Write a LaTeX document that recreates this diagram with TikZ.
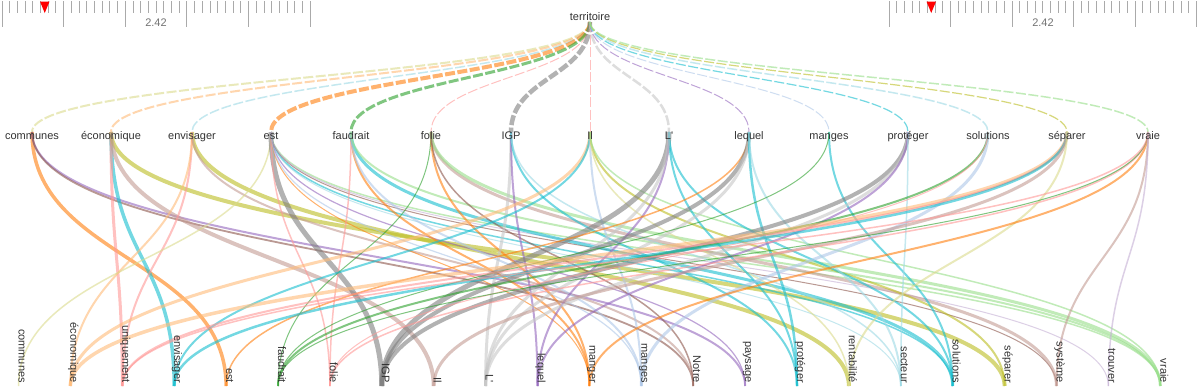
\documentclass[tikz,border=0pt]{standalone}
\usepackage{fontspec}
\setmainfont{Liberation Sans}
\usetikzlibrary{calc}
\definecolor{cOrange}{HTML}{FF7F0E}
\definecolor{cLOrange}{HTML}{FFBB78}
\definecolor{cGreen}{HTML}{2CA02C}
\definecolor{cLGreen}{HTML}{98DF8A}
\definecolor{cPink}{HTML}{FF9896}
\definecolor{cPurple}{HTML}{9467BD}
\definecolor{cLPurple}{HTML}{C5B0D5}
\definecolor{cBrown}{HTML}{8C564B}
\definecolor{cLBrown}{HTML}{C49C94}
\definecolor{cGray}{HTML}{7F7F7F}
\definecolor{cLGray}{HTML}{C7C7C7}
\definecolor{cOlive}{HTML}{BCBD22}
\definecolor{cLOlive}{HTML}{DBDB8D}
\definecolor{cCyan}{HTML}{17BECF}
\definecolor{cLCyan}{HTML}{9EDAE5}
\definecolor{cLBlue}{HTML}{AEC7E8}
\definecolor{cTick}{HTML}{AAAAAA}
\definecolor{cTxt}{HTML}{333333}
\newcommand\mylinkv[3]{%
  \path ($(#1)!0.5!(#2)$) coordinate (lkmid);
  \draw[#3] (#1) .. controls (#1 |- lkmid) and (#2 |- lkmid) .. (#2);
}
\newcommand\mylink[4]{\mylinkv{#1}{#2}{draw=#3, line width=#4, lowlink}}
\newcommand\mytop[3]{\mylinkv{T}{#1}{draw=#2, line width=#3, toplink}}
\tikzset{
  lowlink/.style={draw opacity=0.6},
  toplink/.style={draw opacity=0.6, dash pattern=on 10pt off 2.5pt},
  lbl/.style={font=\fontsize{11}{13}\selectfont, text=cTxt, inner sep=0pt},
  toplbl/.style={lbl, anchor=base},
  botlbl/.style={lbl, rotate=-90, anchor=base east},
  tickmin/.style={draw=cTick, line width=0.9pt},
  rulerlbl/.style={font=\fontsize{11}{13}\selectfont, text=black!55, inner sep=0pt, anchor=base},
}
\begin{document}
\begin{tikzpicture}[x=1pt,y=-1pt]
\useasboundingbox (0,0) rectangle (1200,386);
\fill[white] (0,0) rectangle (1200,386);
% rulers
\foreach \k in {0,...,40}{
  \pgfmathsetmacro\len{ifthenelse(mod(\k,8)==0,26,12)}
  \draw[tickmin] ({2+\k*7.706},1) -- ++(0,\len);
  \draw[tickmin] ({889+\k*7.6875},1) -- ++(0,\len);
}
\fill[red] (40,1.5) -- (49.5,1.5) -- (44.75,13) -- cycle;
\fill[red] (926.5,1.5) -- (936,1.5) -- (931.25,13) -- cycle;
\node[rulerlbl] (rl) at (156,26) {2.42};
\node[rulerlbl] (rr) at (1043,26) {2.42};
% anchor points
\coordinate (T) at (590,22);
\foreach \n/\x in {communes/32, economique/111, envisager/192, est/271, faudrait/351, folie/431, IGP/511, Il/590, L/669, lequel/749, manges/829, proteger/908, solutions/988, separer/1067, vraie/1148}{
  \coordinate (m\n) at (\x,132);
}
\foreach \n [count=\i from 0] in {communes, economique, uniquement, envisager, est, faudrait, folie, IGP, Il, L, lequel, manger, manges, Notre, paysage, proteger, rentabilite, secteur, solutions, separer, systeme, trouver, vraie}{
  \coordinate (b\n) at ({18.5+51.9*\i},386);
}
% territoire links (dashed)
\mytop{mcommunes}{cLOlive}{2}
\mytop{meconomique}{cLOrange}{2}
\mytop{menvisager}{cLCyan}{1.5}
\mytop{mest}{cOrange}{4}
\mytop{mfaudrait}{cGreen}{3}
\mytop{mfolie}{cPink}{1}
\mytop{mIGP}{cGray}{4.5}
\mytop{mIl}{cPink}{1}
\mytop{mL}{cLGray}{2.5}
\mytop{mlequel}{cPurple}{1}
\mytop{mmanges}{cLBlue}{1}
\mytop{mproteger}{cCyan}{1.2}
\mytop{msolutions}{cLCyan}{1.5}
\mytop{mseparer}{cOlive}{1.2}
\mytop{mvraie}{cLGreen}{1.5}
% lower links
\mylink{mcommunes}{best}{cOrange}{3.5}
\mylink{mcommunes}{bpaysage}{cPurple}{2}
\mylink{mcommunes}{bNotre}{cBrown}{1.8}
\mylink{meconomique}{benvisager}{cCyan}{3.5}
\mylink{meconomique}{buniquement}{cPink}{3}
\mylink{meconomique}{bseparer}{cOlive}{4}
\mylink{meconomique}{bIl}{cLBrown}{4}
\mylink{menvisager}{brentabilite}{cOlive}{4}
\mylink{menvisager}{buniquement}{cPink}{2}
\mylink{menvisager}{beconomique}{cLOrange}{2}
\mylink{menvisager}{bNotre}{cLBrown}{2}
\mylink{mest}{bcommunes}{cLOlive}{1.5}
\mylink{mest}{bIGP}{cGray}{5}
\mylink{mest}{bfolie}{cPink}{1.5}
\mylink{mest}{bvraie}{cLGreen}{1.5}
\mylink{mest}{bsolutions}{cCyan}{1.5}
\mylink{mest}{bsecteur}{cLCyan}{1}
\mylink{mest}{bpaysage}{cPurple}{1.2}
\mylink{mest}{bmanger}{cOrange}{1}
\mylink{mest}{bsysteme}{cBrown}{1}
\mylink{mest}{btrouver}{cLPurple}{1}
\mylink{mest}{bmanges}{cLBlue}{1.2}
\mylink{mfaudrait}{bmanger}{cOrange}{2}
\mylink{mfaudrait}{bfolie}{cPink}{1.5}
\mylink{mfaudrait}{bsolutions}{cCyan}{3}
\mylink{mfaudrait}{bmanges}{cLBlue}{2}
\mylink{mfaudrait}{bvraie}{cLGreen}{2}
\mylink{mfolie}{bfaudrait}{cGreen}{1}
\mylink{mfolie}{bmanger}{cOrange}{2}
\mylink{mfolie}{bsysteme}{cLBrown}{3}
\mylink{mfolie}{bvraie}{cLGreen}{3}
\mylink{mfolie}{bNotre}{cBrown}{1.5}
\mylink{mIGP}{bL}{cLGray}{3}
\mylink{mIGP}{blequel}{cPurple}{2}
\mylink{mIGP}{bproteger}{cCyan}{2}
\mylink{mIGP}{bsecteur}{cLCyan}{1.5}
\mylink{mIl}{beconomique}{cLOrange}{3}
\mylink{mIl}{benvisager}{cCyan}{2}
\mylink{mIl}{bmanges}{cLBlue}{2}
\mylink{mIl}{bseparer}{cOlive}{2}
\mylink{mIl}{brentabilite}{cLOlive}{1.5}
\mylink{mIl}{bvraie}{cLGreen}{1.5}
\mylink{mL}{bIGP}{cGray}{5}
\mylink{mL}{blequel}{cPurple}{2}
\mylink{mL}{bproteger}{cCyan}{2}
\mylink{mL}{bsolutions}{cCyan}{2}
\mylink{mL}{bL}{cLGray}{3}
\mylink{mlequel}{best}{cOrange}{1.5}
\mylink{mlequel}{bIGP}{cGray}{4}
\mylink{mlequel}{bL}{cLGray}{3}
\mylink{mlequel}{bproteger}{cCyan}{2.5}
\mylink{mlequel}{bsecteur}{cLCyan}{2}
\mylink{mmanges}{bsolutions}{cCyan}{2}
\mylink{mmanges}{bfaudrait}{cGreen}{1}
\mylink{mproteger}{bIGP}{cGray}{4}
\mylink{mproteger}{bL}{cLGray}{3}
\mylink{mproteger}{blequel}{cPurple}{2}
\mylink{mproteger}{bsecteur}{cLCyan}{1.5}
\mylink{msolutions}{bfaudrait}{cGreen}{2}
\mylink{msolutions}{bmanges}{cLBlue}{3}
\mylink{msolutions}{bfolie}{cPink}{1}
\mylink{mseparer}{beconomique}{cLOrange}{3.5}
\mylink{mseparer}{buniquement}{cPink}{2}
\mylink{mseparer}{benvisager}{cCyan}{2.5}
\mylink{mseparer}{bIl}{cLBrown}{3}
\mylink{mseparer}{brentabilite}{cLOlive}{2}
\mylink{mvraie}{bmanger}{cOrange}{2}
\mylink{mvraie}{bfolie}{cPink}{1.5}
\mylink{mvraie}{bfaudrait}{cGreen}{1}
\mylink{mvraie}{buniquement}{cPink}{1.5}
\mylink{mvraie}{bsysteme}{cLBrown}{2}
\mylink{mvraie}{btrouver}{cLPurple}{1.5}
% labels
\node[toplbl] (Nterritoire) at (590,20) {territoire};
\foreach \n/\x/\t in {communes/32/communes, economique/111/économique, envisager/192/envisager, est/271/est, faudrait/351/faudrait, folie/431/folie, IGP/511/IGP, Il/590/Il, L/669/L\textquotesingle, lequel/749/lequel, manges/829/manges, proteger/908/protéger, solutions/988/solutions, separer/1067/séparer, vraie/1148/vraie}{
  \node[toplbl] (M\n) at (\x,139.5) {\t};
}
\foreach \n/\t [count=\i from 0] in {communes/communes, economique/économique, uniquement/uniquement, envisager/envisager, est/est, faudrait/faudrait, folie/folie, IGP/IGP, Il/Il, L/L\textquotesingle, lequel/lequel, manger/manger, manges/manges, Notre/Notre, paysage/paysage, proteger/protéger, rentabilite/rentabilité, secteur/secteur, solutions/solutions, separer/séparer, systeme/système, trouver/trouver, vraie/vraie}{
  \node[botlbl] (B\n) at ({18.5+51.9*\i},383) {\t};
}
\end{tikzpicture}
\end{document}
